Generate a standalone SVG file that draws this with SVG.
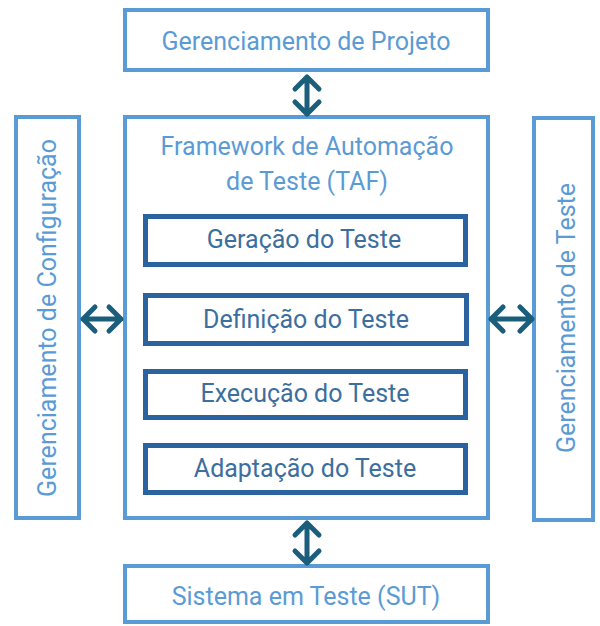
<svg xmlns="http://www.w3.org/2000/svg" width="600" height="626" viewBox="0 0 600 626">
<style>
.outer{fill:#fff;stroke:#5B9BD5;stroke-width:4}
.inner{fill:#fff;stroke:#2A63A0;stroke-width:5}
.lt{fill:#5B9BD5;font-family:Roboto,"Liberation Sans",sans-serif;font-size:25px;text-anchor:middle}
.dt{fill:#3C6E9E;font-family:Roboto,"Liberation Sans",sans-serif;font-size:25px;text-anchor:middle}
.arr{fill:none;stroke:#1B5E7B;stroke-width:5;stroke-linejoin:round;stroke-linecap:round}
</style>
<rect width="600" height="626" fill="#fff"/>
<g id="proj"><rect class="outer" x="125" y="10" width="363" height="60"/><text class="lt" x="306" y="50">Gerenciamento de Projeto</text></g>
<g id="taf"><rect class="outer" x="125" y="117" width="363" height="401"/><text class="lt" x="307" y="155">Framework de Automação</text><text class="lt" x="307" y="190">de Teste (TAF)</text></g>
<g id="config"><rect class="outer" x="16" y="117" width="63" height="401"/><text class="lt" x="0" y="0" transform="translate(56,318) rotate(-90)">Gerenciamento de Configuração</text></g>
<g id="teste"><rect class="outer" x="534" y="118" width="59" height="402"/><text class="lt" x="0" y="0" transform="translate(575,318) rotate(-90)">Gerenciamento de Teste</text></g>
<g id="sut"><rect class="outer" x="125" y="566" width="363" height="56"/><text class="lt" x="306" y="605">Sistema em Teste (SUT)</text></g>
<g id="geracao"><rect class="inner" x="145.5" y="216.5" width="320" height="48"/><text class="dt" x="304" y="248">Geração do Teste</text></g>
<g id="definicao"><rect class="inner" x="145.5" y="295.5" width="321" height="48"/><text class="dt" x="306" y="328">Definição do Teste</text></g>
<g id="execucao"><rect class="inner" x="145.5" y="371.5" width="320" height="46"/><text class="dt" x="305" y="402">Execução do Teste</text></g>
<g id="adaptacao"><rect class="inner" x="145.5" y="445.5" width="320" height="47"/><text class="dt" x="305" y="477">Adaptação do Teste</text></g>
<g id="connectors">
<path class="arr" d="M307 77V114M295 89L307 77L319 89M295 102L307 114L319 102"/>
<path class="arr" d="M307 523V563M295 535L307 523L319 535M295 551L307 563L319 551"/>
<path class="arr" d="M83 319H121M95 307L83 319L95 331M109 307L121 319L109 331"/>
<path class="arr" d="M491 319H532M503 307L491 319L503 331M520 307L532 319L520 331"/>
</g>
</svg>
